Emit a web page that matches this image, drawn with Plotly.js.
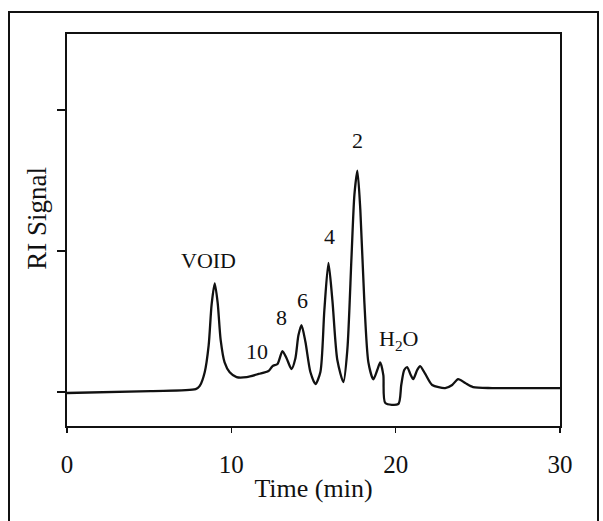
<!DOCTYPE html>
<html>
<head>
<meta charset="utf-8">
<script src="https://cdn.plot.ly/plotly-3.0.1.min.js"></script>
<style>html,body{margin:0;padding:0;background:#fff;}#chart{width:603px;height:521px;}</style>
</head>
<body>
<div id="chart"></div>
<script>
// Chromatogram trace (time in min, RI signal in arbitrary units)
var time = [0, 5.1, 7.83, 8.08, 8.38, 8.62, 8.80, 8.99, 9.17, 9.35, 9.59, 9.90, 10.32, 10.93, 11.66, 12.26, 12.51, 12.81, 13.11, 13.36, 13.66, 13.90, 14.08, 14.27, 14.51, 14.81, 15.12, 15.42, 15.66, 15.91, 16.15, 16.45, 16.82, 17.06, 17.31, 17.49, 17.67, 17.85, 18.09, 18.34, 18.64, 18.88, 19.06, 19.25, 19.37, 20.16, 20.34, 20.52, 20.70, 20.89, 21.07, 21.31, 21.49, 21.80, 22.22, 23.01, 23.44, 23.80, 24.23, 24.71, 25.87, 30];
var signal = [-0.007, 0.007, 0.02, 0.043, 0.14, 0.33, 0.62, 0.77, 0.63, 0.37, 0.21, 0.14, 0.106, 0.106, 0.128, 0.149, 0.184, 0.199, 0.29, 0.24, 0.163, 0.24, 0.40, 0.475, 0.355, 0.142, 0.057, 0.142, 0.58, 0.915, 0.65, 0.227, 0.071, 0.30, 0.95, 1.40, 1.57, 1.29, 0.65, 0.21, 0.09, 0.156, 0.21, 0.12, -0.078, -0.085, 0.05, 0.156, 0.177, 0.128, 0.092, 0.156, 0.184, 0.128, 0.05, 0.028, 0.05, 0.092, 0.064, 0.035, 0.028, 0.028];

// Peak labels
var peakLabels = ["VOID", "10", "8", "6", "4", "2", "H<sub>2</sub>O"];
var peakLabelX = [8.62, 11.54, 13.05, 14.33, 15.97, 17.67, 20.16];
var peakLabelY = [0.936, 0.284, 0.525, 0.652, 1.10, 1.787, 0.369];

// Axis ticks and titles
var xTicks = [0, 10, 20, 30];
var xTickText = ["0", "10", "20", "30"];
var yTicks = [0, 1, 2];
var xTitle = "Time (min)";
var yTitle = "RI Signal";

var serif = "Liberation Serif, Times New Roman, serif";

var annotations = peakLabels.map(function (t, i) {
  return {
    x: peakLabelX[i], y: peakLabelY[i], xref: "x", yref: "y",
    text: t, showarrow: false,
    font: {family: serif, size: 22, color: "#111"}
  };
});
annotations.push({
  x: -0.061, y: 0.531, xref: "paper", yref: "paper",
  text: yTitle, showarrow: false, textangle: -90,
  xanchor: "center", yanchor: "middle",
  font: {family: serif, size: 27, color: "#111"}
});

var trace = {
  x: time, y: signal, type: "scatter", mode: "lines",
  line: {color: "#111", width: 2.3, shape: "spline", smoothing: 0.7},
  hoverinfo: "skip"
};

var layout = {
  width: 603, height: 521,
  margin: {l: 67, r: 43, t: 34, b: 95},
  paper_bgcolor: "#fff", plot_bgcolor: "#fff",
  showlegend: false,
  xaxis: {
    range: [0, 30], tickvals: xTicks, ticktext: xTickText,
    ticks: "outside", ticklen: 5, tickwidth: 1.5, tickcolor: "#111",
    showline: true, linewidth: 2, linecolor: "#111", mirror: true,
    showgrid: false, zeroline: false,
    ticklabelstandoff: 10,
    tickfont: {family: serif, size: 25, color: "#111"},
    title: {text: xTitle, font: {family: serif, size: 26, color: "#111"}, standoff: 2}
  },
  yaxis: {
    range: [-0.241, 2.539], tickvals: yTicks, showticklabels: false,
    ticks: "outside", ticklen: 8, tickwidth: 1.5, tickcolor: "#111",
    showline: true, linewidth: 2, linecolor: "#111", mirror: true,
    showgrid: false, zeroline: false
  },
  annotations: annotations,
  shapes: [{
    type: "rect", xref: "paper", yref: "paper",
    x0: -58 / 493, x1: 531 / 493, y0: -0.3, y1: 1 + 22 / 392,
    line: {color: "#111", width: 2}, fillcolor: "rgba(0,0,0,0)", layer: "below"
  }]
};

Plotly.newPlot("chart", [trace], layout, {staticPlot: true, displayModeBar: false});
</script>
</body>
</html>
